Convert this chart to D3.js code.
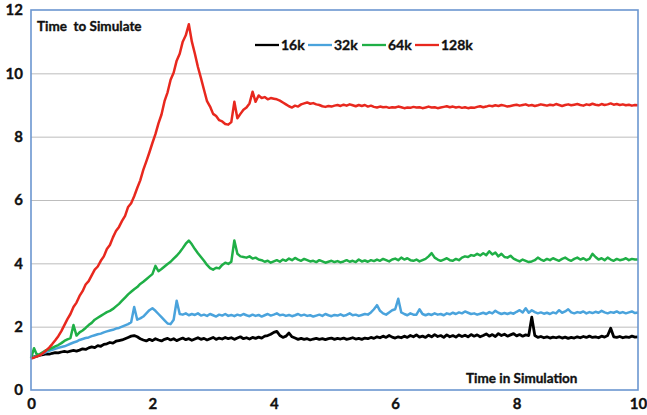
<!DOCTYPE html>
<html>
<head>
<meta charset="utf-8">
<script src="https://cdn.jsdelivr.net/npm/d3@7"></script>
<style>
  html, body { margin: 0; padding: 0; background: #fff; }
  svg { display: block; }
  text { font-family: Lato, "Liberation Sans", Arial, sans-serif; font-weight: 700; fill: #111; white-space: pre; stroke: #111; stroke-width: 0.35px; }
</style>
</head>
<body>
<svg id="chart" width="647" height="415"></svg>
<script>
// ---- data ----
const timeStep = 0.05;           // simulation time between samples
const seriesNames = ["16k", "32k", "64k", "128k"];
const seriesColors = ["#000000", "#4aa3dc", "#1faf46", "#e8281e"];
const xTicks = [0, 2, 4, 6, 8, 10];
const yTicks = [0, 2, 4, 6, 8, 10, 12];
const yTitle = "Time  to Simulate";
const xTitle = "Time in Simulation";

const values16k = [
  1.00,1.05,1.07,1.10,1.12,1.14,1.13,1.16,1.18,1.17,1.20,1.22,1.20,1.23,1.25,1.23,1.26,1.30,1.28,1.33,
  1.36,1.34,1.40,1.38,1.44,1.46,1.50,1.48,1.54,1.56,1.58,1.62,1.66,1.70,1.72,1.68,1.62,1.58,1.55,1.60,
  1.56,1.62,1.58,1.55,1.60,1.63,1.58,1.62,1.56,1.60,1.64,1.59,1.62,1.57,1.61,1.65,1.60,1.63,1.58,1.62,
  1.66,1.60,1.64,1.61,1.66,1.62,1.65,1.60,1.64,1.68,1.62,1.65,1.61,1.66,1.63,1.67,1.64,1.70,1.72,1.76,
  1.82,1.85,1.72,1.66,1.70,1.80,1.68,1.64,1.60,1.63,1.60,1.62,1.58,1.61,1.63,1.60,1.62,1.59,1.62,1.64,
  1.60,1.63,1.61,1.64,1.60,1.62,1.65,1.61,1.63,1.60,1.64,1.62,1.66,1.63,1.68,1.65,1.70,1.66,1.72,1.67,
  1.64,1.68,1.65,1.70,1.66,1.72,1.68,1.74,1.67,1.70,1.66,1.73,1.68,1.75,1.69,1.72,1.66,1.74,1.68,1.72,
  1.67,1.74,1.69,1.73,1.68,1.75,1.70,1.74,1.68,1.72,1.77,1.70,1.75,1.69,1.78,1.72,1.76,1.70,1.74,1.78,
  1.71,1.75,1.70,1.74,1.72,2.30,1.72,1.66,1.69,1.65,1.68,1.64,1.67,1.65,1.68,1.64,1.67,1.63,1.66,1.64,
  1.68,1.65,1.69,1.66,1.70,1.66,1.68,1.65,1.70,1.67,1.72,1.95,1.68,1.66,1.69,1.65,1.68,1.66,1.70,1.67,
  1.68
];
const values32k = [
  1.00,1.04,1.08,1.12,1.16,1.20,1.24,1.27,1.30,1.33,1.36,1.38,1.42,1.46,1.50,1.53,1.58,1.61,1.64,1.66,
  1.70,1.73,1.76,1.78,1.82,1.85,1.88,1.90,1.94,1.96,2.00,2.04,2.08,2.14,2.62,2.22,2.26,2.32,2.42,2.52,
  2.58,2.50,2.40,2.30,2.20,2.10,2.08,2.22,2.82,2.40,2.38,2.42,2.36,2.40,2.37,2.42,2.35,2.38,2.34,2.40,
  2.36,2.32,2.38,2.35,2.40,2.34,2.37,2.33,2.38,2.35,2.40,2.36,2.33,2.38,2.34,2.37,2.32,2.36,2.40,2.35,
  2.38,2.42,2.36,2.38,2.34,2.37,2.33,2.36,2.40,2.35,2.38,2.34,2.36,2.32,2.35,2.38,2.34,2.40,2.36,2.33,
  2.37,2.35,2.39,2.34,2.37,2.42,2.36,2.38,2.34,2.37,2.40,2.38,2.45,2.55,2.68,2.50,2.42,2.38,2.45,2.52,
  2.55,2.88,2.45,2.40,2.36,2.42,2.38,2.38,2.55,2.40,2.36,2.40,2.37,2.42,2.38,2.40,2.36,2.42,2.39,2.44,
  2.40,2.45,2.42,2.48,2.44,2.40,2.42,2.38,2.41,2.44,2.40,2.46,2.42,2.50,2.44,2.40,2.43,2.40,2.44,2.41,
  2.47,2.52,2.45,2.58,2.44,2.52,2.46,2.42,2.45,2.41,2.44,2.40,2.45,2.42,2.52,2.44,2.48,2.55,2.45,2.42,
  2.46,2.44,2.48,2.42,2.46,2.43,2.47,2.44,2.50,2.45,2.42,2.46,2.44,2.48,2.43,2.46,2.42,2.45,2.48,2.43,
  2.45
];
const values64k = [
  1.00,1.32,1.10,1.14,1.20,1.26,1.28,1.33,1.38,1.42,1.48,1.55,1.60,1.64,2.05,1.72,1.82,1.88,1.96,2.05,
  2.12,2.22,2.28,2.34,2.40,2.46,2.50,2.56,2.64,2.72,2.82,2.92,3.02,3.10,3.18,3.25,3.35,3.42,3.50,3.58,
  3.66,3.92,3.75,3.82,3.90,3.98,4.05,4.15,4.24,4.35,4.48,4.62,4.72,4.60,4.45,4.32,4.20,4.08,3.95,3.85,
  3.80,3.86,3.84,3.95,4.02,3.98,4.05,4.72,4.30,4.22,4.20,4.18,4.22,4.15,4.18,4.12,4.10,4.05,4.08,4.02,
  4.06,4.10,4.05,4.12,4.08,4.15,4.10,4.17,4.12,4.08,4.14,4.10,4.06,4.08,4.04,4.10,4.06,4.02,4.05,4.08,
  4.04,4.07,4.03,4.06,4.10,4.05,4.08,4.04,4.12,4.06,4.09,4.05,4.10,4.07,4.12,4.08,4.14,4.10,4.06,4.12,
  4.15,4.10,4.18,4.12,4.16,4.10,4.08,4.12,4.06,4.10,4.14,4.22,4.32,4.18,4.12,4.08,4.12,4.16,4.10,4.08,
  4.14,4.10,4.18,4.22,4.20,4.26,4.24,4.30,4.25,4.32,4.26,4.38,4.28,4.34,4.22,4.30,4.20,4.18,4.24,4.15,
  4.10,4.06,4.12,4.08,4.04,4.06,4.10,4.18,4.12,4.08,4.14,4.10,4.16,4.12,4.08,4.14,4.18,4.12,4.08,4.14,
  4.18,4.12,4.16,4.10,4.14,4.30,4.20,4.12,4.16,4.10,4.18,4.12,4.08,4.14,4.10,4.12,4.16,4.10,4.14,4.12,
  4.12
];
const values128k = [
  1.00,1.02,1.06,1.10,1.17,1.25,1.34,1.45,1.57,1.70,1.86,2.05,2.24,2.40,2.62,2.76,2.97,3.12,3.33,3.44,
  3.62,3.80,3.90,4.08,4.22,4.45,4.58,4.82,5.02,5.15,5.34,5.50,5.78,5.90,6.12,6.38,6.62,6.95,7.22,7.50,
  7.80,8.08,8.42,8.70,9.12,9.40,9.80,10.02,10.40,10.62,11.00,11.20,11.55,11.00,10.62,10.20,9.85,9.48,9.12,8.95,
  8.72,8.65,8.52,8.48,8.40,8.38,8.46,9.10,8.58,8.72,8.85,8.92,9.05,9.42,9.10,9.30,9.22,9.25,9.18,9.22,
  9.20,9.18,9.14,9.08,9.02,8.96,8.92,8.98,8.95,9.02,9.05,9.08,9.04,9.06,9.02,9.00,8.96,8.94,8.97,8.95,
  8.98,9.00,8.97,9.01,8.98,9.02,8.99,8.96,9.00,8.97,9.00,8.95,8.98,8.94,8.92,8.95,8.93,8.94,8.91,8.93,
  8.92,8.95,8.93,8.90,8.92,8.91,8.94,8.92,8.93,8.90,8.92,8.95,8.92,8.93,8.90,8.92,8.94,8.96,8.93,8.95,
  8.92,8.94,8.91,8.93,8.90,8.92,8.91,8.94,8.96,8.93,8.95,8.98,8.96,8.99,8.97,9.00,8.98,8.95,8.97,8.99,
  9.01,8.98,9.00,9.02,8.98,9.00,8.97,8.99,9.02,9.00,8.98,9.01,8.99,9.03,9.00,8.97,9.00,9.02,8.99,9.01,
  9.03,9.00,8.98,9.02,9.00,9.04,9.01,8.99,9.03,9.00,9.02,9.05,9.01,9.03,9.00,9.02,8.99,9.01,8.98,9.00,
  8.99
];
const seriesValues = [values16k, values32k, values64k, values128k];

// ---- drawing ----
const svg = d3.select("#chart");
const plotL = 31, plotR = 638, plotT = 10, plotB = 390;

const x = d3.scaleLinear().domain([0, 10]).range([plotL, plotR]);
const y = d3.scaleLinear().domain([0, 12]).range([plotB, plotT]);

// gridlines
svg.append("g")
  .attr("transform", `translate(${plotL},0)`)
  .call(d3.axisLeft(y).tickValues(yTicks.filter(v => v > 0 && v < 12)).tickSize(-(plotR - plotL)).tickFormat(""))
  .call(g => g.select(".domain").remove())
  .call(g => g.selectAll("line").attr("stroke", "#bdbdbd").attr("stroke-width", 1));

// y tick labels
svg.append("g")
  .attr("transform", `translate(${plotL},0)`)
  .call(d3.axisLeft(y).tickValues(yTicks).tickSize(0).tickPadding(8))
  .call(g => g.select(".domain").remove())
  .call(g => g.selectAll("text").attr("font-size", 15).attr("font-family", "Lato, 'Liberation Sans', sans-serif").attr("font-weight", 700).attr("fill", "#111"));

// x tick labels
svg.append("g")
  .attr("transform", `translate(0,${plotB})`)
  .call(d3.axisBottom(x).tickValues(xTicks).tickSize(0).tickPadding(8))
  .call(g => g.select(".domain").remove())
  .call(g => g.selectAll("text").attr("font-size", 15).attr("font-family", "Lato, 'Liberation Sans', sans-serif").attr("font-weight", 700).attr("fill", "#111"));

// series lines
const line = d3.line()
  .x((d, i) => x(i * timeStep))
  .y(d => y(d));

seriesValues.forEach((vals, k) => {
  svg.append("path")
    .datum(vals)
    .attr("fill", "none")
    .attr("stroke", seriesColors[k])
    .attr("stroke-width", k === 0 ? 2.8 : 2.5)
    .attr("stroke-linejoin", "round")
    .attr("d", line);
});

// plot frame
svg.append("rect")
  .attr("x", plotL).attr("y", plotT)
  .attr("width", plotR - plotL).attr("height", plotB - plotT)
  .attr("fill", "none")
  .attr("stroke", "#6b96d0")
  .attr("stroke-width", 1.6);

// titles
svg.append("text").attr("x", 37).attr("y", 31).attr("font-size", 13.5).text(yTitle);
svg.append("text").attr("x", 466).attr("y", 383).attr("font-size", 13.5).text(xTitle);

// legend
const legendX = [255, 308, 362, 415];
const legend = svg.append("g");
seriesNames.forEach((name, k) => {
  legend.append("line")
    .attr("x1", legendX[k]).attr("x2", legendX[k] + 24)
    .attr("y1", 45).attr("y2", 45)
    .attr("stroke", seriesColors[k]).attr("stroke-width", 2.3);
  legend.append("text")
    .attr("x", legendX[k] + 26).attr("y", 50)
    .attr("font-size", 14)
    .text(name);
});
</script>
</body>
</html>
